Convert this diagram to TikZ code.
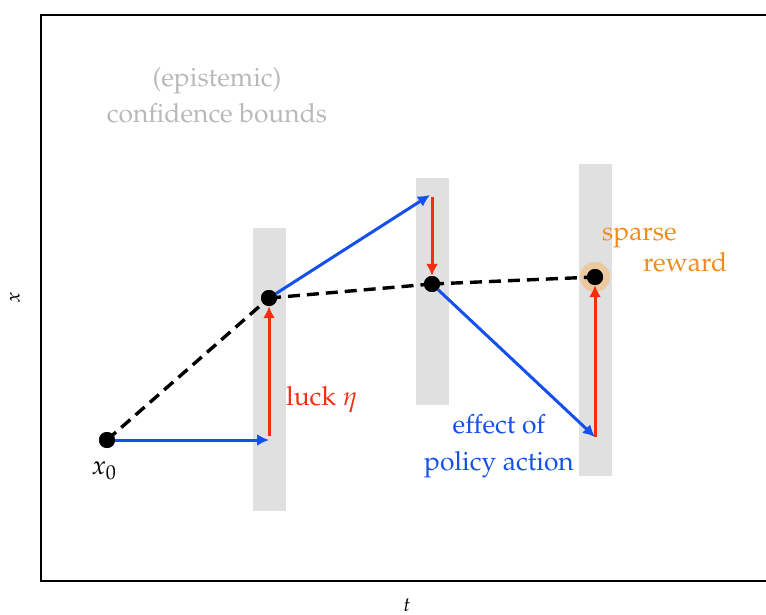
\documentclass[tikz,border=0pt]{standalone}
\usepackage[T1]{fontenc}
\usepackage{mathpazo}
\usetikzlibrary{arrows.meta}
\definecolor{cblue}{RGB}{20,80,235}
\definecolor{cred}{RGB}{245,45,15}
\definecolor{corange}{RGB}{240,140,30}
\definecolor{cbar}{RGB}{224,224,224}
\definecolor{cgraytext}{RGB}{185,185,185}
\definecolor{chalo}{RGB}{235,200,160}
\tikzset{
  dot/.style={circle,fill=black,inner sep=0pt,minimum size=16bp},
  bar/.style={fill=cbar,draw=none},
  blu/.style={draw=cblue,line width=3bp,-{Latex[length=12bp,width=12bp]}},
  rd/.style={draw=cred,line width=3bp,-{Latex[length=12bp,width=12bp]}},
  dsh/.style={draw=black,line width=3.4bp,dash pattern=on 12bp off 7bp},
  lbl/.style={font=\fontsize{26.5}{36.5}\selectfont,inner sep=0pt,align=center},
  axl/.style={font=\fontsize{20}{22}\selectfont,inner sep=0pt}
}
\begin{document}
\begin{tikzpicture}[x=1bp,y=-1bp]
\useasboundingbox (0,0) rectangle (766,615);
% frame
\draw[line width=2bp] (766,15) -- (41,15) -- (41,581) -- (766,581);
\node[axl,rotate=90] (xl) at (15,298) {$x$};
\node[axl] (tl) at (407,605) {$t$};
% bars
\fill[bar] (253,228) rectangle (286,511);
\fill[bar] (416,178) rectangle (449,405);
\fill[bar] (579,164) rectangle (612,476);
% halo
\fill[chalo] (595,277) circle (15bp);
% points
\node[dot] (x0) at (107,440) {};
\node[dot] (p1) at (269,298) {};
\node[dot] (p2) at (432,284) {};
\node[dot] (p3) at (595,277) {};
% dashed path
\draw[dsh] (x0.center) -- (p1.center);
\draw[dsh] (p1.center) -- (p2.center);
\draw[dsh] (p2.center) -- (p3.center);
\node[dot] at (x0) {};
\node[dot] at (p1) {};
\node[dot] at (p2) {};
\node[dot] at (p3) {};
% coordinates
\coordinate (a1) at (269,440);
\coordinate (b1) at (269,436);
\coordinate (a2) at (430,195);
\coordinate (b2) at (432,197);
\coordinate (a3) at (595,437);
\coordinate (b3) at (595,437);
% blue arrows
\draw[blu] (x0) -- (a1);
\draw[blu] (p1) -- (a2);
\draw[blu] (p2) -- (a3);
% red arrows
\draw[rd] (b1) -- (p1);
\draw[rd] (b2) -- (p2);
\draw[rd] (b3) -- (p3);
% labels
\node[lbl,text=cgraytext] (conf) at (217,95) {(epistemic)\\confidence bounds};
\node[lbl,text=cred] (luck) at (322,400) {luck $\eta$};
\node[lbl,text=cblue] (eff) at (499,446) {effect of\\policy action};
\node[lbl,text=corange,anchor=west] (sp) at (602,238) {sparse};
\node[lbl,text=corange,anchor=west] (rw) at (643,262) {reward};
\node[lbl] (x0l) at (104,471) {$x_0$};
\end{tikzpicture}
\end{document}
